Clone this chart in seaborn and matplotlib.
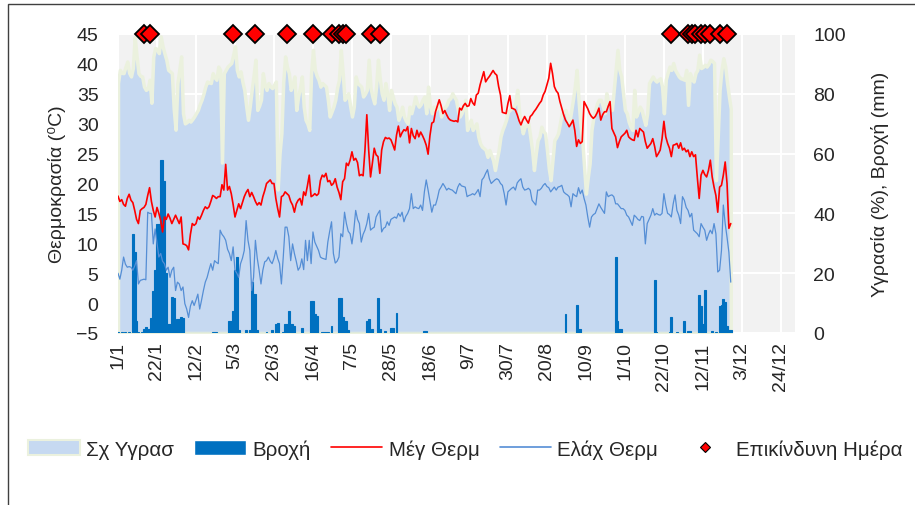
import pandas as pd
import numpy as np
import matplotlib
matplotlib.use("Agg")
import matplotlib.pyplot as plt
import seaborn as sns
from matplotlib.patches import Patch, Rectangle
from matplotlib.lines import Line2D

# daily series from 1 Jan, one value per day (Jan..27 Nov)
start = "2019-01-01"

max_temp = [
    # Jan
    17.9, 17.0, 17.3, 16.5, 16.2, 17.5, 18.2, 17.2, 16.8, 15.5, 14.0, 13.3, 15.5, 15.8, 16.0, 16.5,
    18.0, 19.3, 17.0, 15.5, 14.4, 16.0, 15.0, 13.8, 11.9, 14.4, 14.0, 14.9, 14.2, 13.3, 14.0,
    # Feb
    14.7, 14.0, 13.3, 14.4, 9.9, 9.8, 9.6, 8.9, 11.5, 13.3, 13.0, 13.3, 14.4, 14.0, 14.7, 15.5,
    16.1, 15.8, 16.1, 17.0, 18.0, 17.8, 17.5, 17.8, 17.8, 19.8, 18.9, 23.2,
    # Mar
    18.9, 19.5, 18.3, 16.5, 14.4, 15.5, 16.6, 15.8, 16.8, 17.8, 18.5, 19.0, 17.8, 18.5, 17.8, 17.0,
    16.4, 16.8, 16.4, 17.8, 18.8, 20.0, 20.3, 20.6, 20.0, 20.0, 17.5, 15.8, 14.4, 17.8, 18.0,
    # Apr
    18.6, 18.3, 18.0, 17.0, 16.4, 15.2, 16.6, 17.2, 17.5, 16.4, 18.6, 18.0, 19.6, 21.4, 17.8,
    18.0, 18.3, 18.0, 18.3, 20.5, 21.4, 21.1, 21.7, 20.3, 20.5, 19.7, 20.0, 20.8, 19.4, 18.5,
    # May
    17.3, 20.3, 20.8, 23.4, 23.0, 23.9, 25.3, 23.9, 24.2, 23.5, 21.3, 21.5, 21.3, 25.6, 31.5, 25.6,
    21.1, 23.4, 25.9, 24.8, 24.5, 21.7, 25.6, 27.0, 27.7, 27.5, 27.6, 27.3, 26.5, 25.6, 28.1,
    # Jun
    29.6, 27.8, 28.5, 29.0, 28.8, 29.5, 26.8, 29.2, 28.0, 27.5, 28.9, 27.8, 28.6, 28.0, 27.3,
    26.4, 24.9, 28.0, 30.1, 30.3, 32.0, 33.0, 34.0, 33.0, 31.7, 32.2, 31.5, 30.9, 30.6, 30.5,
    # Jul
    30.4, 30.5, 30.3, 32.6, 32.3, 33.0, 33.4, 32.9, 33.0, 34.2, 33.5, 33.1, 34.8, 35.1, 36.5, 37.6,
    38.7, 37.0, 37.5, 37.9, 38.4, 38.9, 38.4, 38.1, 36.2, 34.8, 31.9, 31.8, 31.7, 33.4, 34.7,
    # Aug
    32.6, 32.5, 32.3, 31.5, 30.5, 29.8, 30.6, 31.2, 30.6, 30.1, 31.2, 31.5, 32.0, 32.4, 32.9, 33.4,
    33.8, 34.8, 35.4, 36.5, 37.6, 40.1, 38.4, 36.2, 35.5, 35.1, 33.7, 32.6, 31.5, 30.6, 30.1,
    # Sep
    29.5, 30.0, 30.6, 28.9, 26.2, 27.3, 26.7, 27.0, 33.7, 33.1, 32.5, 31.7, 31.2, 30.9, 31.2,
    31.8, 32.6, 30.6, 31.5, 32.0, 32.0, 32.9, 33.7, 29.2, 28.5, 27.8, 26.0, 27.0, 27.8, 28.1,
    # Oct
    28.4, 28.9, 27.8, 27.5, 27.3, 27.2, 28.9, 27.8, 29.2, 28.9, 28.6, 27.0, 25.9, 26.3, 26.7, 27.5,
    26.2, 24.5, 25.0, 25.6, 27.5, 30.4, 27.8, 26.7, 25.9, 24.5, 26.4, 26.5, 26.7, 25.9, 26.8,
    # Nov
    25.6, 25.9, 25.3, 25.6, 24.5, 25.3, 24.5, 24.8, 21.0, 17.5, 21.4, 22.2, 21.5, 21.1, 22.2,
    23.9, 21.1, 19.4, 18.0, 15.2, 19.4, 19.7, 21.4, 23.6, 20.0, 12.5, 13.3,
]

min_temp = [
    # Jan
    5.0, 4.0, 5.5, 7.7, 6.5, 6.0, 6.1, 6.0, 5.5, 6.2, 7.1, 3.2, 3.8, 3.9, 4.0, 3.9,
    15.2, 15.0, 15.0, 9.9, 12.4, 10.0, 7.7, 8.3, 7.0, 6.6, 5.5, 6.0, 4.3, 5.5, 6.0,
    # Feb
    2.1, 3.5, 3.2, 2.1, 2.7, -0.1, -1.0, -2.4, -0.5, 0.4, -0.4, 0.5, 1.5, -1.0, 0.5, 2.1,
    3.5, 4.3, 5.5, 6.6, 5.5, 7.1, 6.8, 6.6, 12.2, 11.5, 11.1, 10.5,
    # Mar
    9.0, 8.3, 7.1, 9.4, 5.5, 5.0, 4.3, 6.6, 7.5, 8.8, 13.8, 10.5, 8.8, 2.1, 4.3, 10.5,
    7.5, 5.5, 3.2, 5.5, 6.9, 7.1, 7.7, 7.0, 6.6, 7.5, 8.8, 7.5, 6.6, 3.2, 7.7,
    # Apr
    12.7, 12.7, 11.1, 7.1, 9.9, 8.3, 7.0, 5.5, 6.0, 7.4, 5.6, 10.5, 7.1, 10.5, 6.6,
    11.9, 10.2, 9.5, 8.8, 7.7, 7.5, 7.4, 7.3, 10.2, 12.0, 13.6, 8.3, 6.7, 7.0, 7.7,
    # May
    11.6, 11.1, 15.2, 13.3, 12.0, 11.6, 9.9, 12.2, 15.5, 14.0, 13.3, 10.2, 11.5, 12.2, 13.3, 15.0,
    12.2, 12.5, 12.7, 14.4, 15.0, 15.5, 11.9, 12.5, 12.7, 13.6, 13.0, 14.0, 14.2, 14.4, 14.2,
    # Jun
    15.0, 14.5, 15.2, 13.6, 14.5, 15.0, 15.8, 18.3, 15.8, 16.1, 15.9, 15.8, 16.4, 15.5, 18.6,
    20.6, 18.9, 17.0, 15.2, 16.4, 16.4, 17.5, 18.9, 19.4, 20.0, 19.5, 18.9, 19.2, 19.0, 18.9,
    # Jul
    18.6, 18.3, 19.4, 20.0, 19.6, 19.5, 19.4, 17.8, 18.0, 18.1, 18.3, 18.1, 18.5, 19.0, 17.8, 20.6,
    21.0, 21.7, 22.3, 20.8, 20.0, 20.3, 20.6, 20.8, 20.6, 20.0, 19.7, 18.3, 16.4, 18.6, 18.9,
    # Aug
    19.2, 19.4, 18.9, 20.1, 20.5, 20.8, 19.4, 18.9, 19.0, 19.2, 18.9, 17.2, 16.8, 16.4, 18.9, 18.9,
    19.2, 19.7, 20.0, 19.5, 19.3, 18.6, 19.0, 19.4, 18.9, 19.4, 19.5, 19.7, 18.6, 18.3, 18.1,
    # Sep
    17.8, 16.1, 18.3, 18.0, 17.8, 19.3, 18.3, 18.9, 17.5, 16.4, 14.4, 12.7, 14.4, 14.8, 15.0,
    15.8, 16.6, 16.0, 15.5, 15.0, 18.6, 17.8, 18.0, 18.1, 17.8, 16.6, 16.6, 16.2, 15.8, 15.8,
    # Oct
    15.5, 14.7, 14.4, 13.7, 13.0, 14.7, 14.4, 14.0, 13.8, 14.5, 14.4, 9.9, 13.3, 14.0, 14.7, 15.8,
    14.7, 15.0, 14.8, 14.7, 15.0, 18.3, 16.4, 15.0, 14.8, 14.4, 16.6, 18.1, 15.5, 14.7, 13.3,
    # Nov
    17.8, 17.2, 16.0, 15.5, 14.4, 15.0, 12.2, 11.9, 11.6, 11.1, 13.3, 12.7, 12.2, 10.5, 11.5,
    12.2, 11.6, 13.3, 11.6, 5.2, 5.5, 8.8, 16.4, 13.3, 11.0, 8.5, 3.5,
]

humidity = [
    # Jan
    83.6, 88.0, 87.0, 86.9, 89.0, 90.8, 87.0, 85.8, 88.6, 99.0, 92.5, 86.9, 86.0, 85.8, 82.4, 81.3,
    81.8, 84.7, 77.0, 92.5, 95.3, 95.0, 93.6, 99.2, 95.9, 93.5, 91.4, 88.0, 87.5, 86.9, 75.0,
    # Feb
    68.0, 83.6, 88.0, 92.5, 73.5, 70.1, 70.5, 71.3, 70.7, 71.5, 72.4, 73.5, 74.6, 76.5, 78.0, 80.0,
    82.4, 84.1, 83.8, 83.6, 86.9, 85.5, 84.7, 89.1, 88.0, 57.0, 86.9, 88.0,
    # Mar
    89.1, 89.7, 90.3, 93.0, 95.9, 88.0, 85.8, 87.5, 84.0, 81.3, 76.0, 71.3, 76.0, 81.3, 86.0, 91.4,
    74.6, 76.0, 78.0, 86.9, 83.0, 81.3, 83.6, 82.5, 81.9, 83.0, 84.1, 48.0, 60.0, 66.8, 84.0,
    # Apr
    92.5, 89.0, 86.9, 81.3, 83.0, 85.8, 74.6, 79.1, 82.0, 85.8, 75.7, 71.3, 70.0, 67.9, 86.9,
    94.7, 88.0, 86.0, 84.7, 82.4, 83.6, 83.0, 82.4, 78.0, 72.4, 74.0, 75.7, 78.0, 82.0, 84.7,
    # May
    94.7, 86.9, 78.0, 79.0, 80.2, 76.0, 72.4, 75.7, 85.8, 83.6, 83.0, 82.4, 79.1, 80.0, 81.3, 91.4,
    82.0, 79.1, 76.8, 82.4, 91.4, 85.0, 80.2, 78.0, 83.6, 80.0, 74.6, 81.3, 79.0, 76.8, 75.7,
    # Jun
    71.3, 73.0, 75.7, 72.4, 71.0, 70.1, 75.7, 73.5, 76.0, 79.1, 76.8, 75.7, 76.5, 78.0, 79.1,
    73.5, 82.4, 76.0, 73.5, 75.7, 74.6, 75.5, 76.8, 72.4, 74.6, 75.5, 76.3, 78.0, 78.5, 80.2,
    # Jul
    79.0, 78.0, 74.6, 72.4, 73.5, 75.5, 78.0, 67.9, 69.5, 71.3, 67.9, 69.0, 70.1, 65.7, 63.4, 62.3,
    61.8, 61.2, 58.9, 61.2, 59.5, 57.8, 54.5, 58.0, 61.2, 65.7, 67.9, 69.5, 71.3, 74.0, 74.6,
    # Aug
    75.2, 75.7, 76.8, 81.3, 74.0, 70.1, 66.8, 69.0, 69.5, 70.1, 65.7, 61.2, 54.5, 60.0, 64.5, 65.7,
    69.0, 67.5, 66.8, 61.2, 55.0, 51.1, 57.8, 64.5, 65.5, 66.8, 70.1, 73.5, 74.0, 74.6, 72.4,
    # Sep
    70.1, 74.0, 78.0, 82.4, 88.0, 78.0, 70.0, 64.5, 55.6, 46.6, 52.0, 56.7, 67.9, 72.0, 74.6,
    76.8, 78.0, 78.0, 76.0, 73.5, 80.2, 76.8, 76.0, 74.6, 81.3, 88.0, 94.7, 88.0, 85.8, 80.2,
    # Oct
    74.6, 73.5, 70.7, 69.0, 67.9, 81.3, 72.4, 74.0, 75.7, 74.6, 72.0, 69.6, 73.5, 83.6, 84.7, 85.8,
    84.7, 84.1, 84.7, 85.2, 82.4, 73.5, 84.7, 87.0, 89.1, 88.0, 90.3, 88.0, 86.9, 85.8, 85.2,
    # Nov
    85.0, 84.7, 88.0, 76.3, 86.9, 85.0, 84.1, 86.9, 88.0, 93.1, 88.6, 89.0, 89.7, 89.1, 90.0,
    91.4, 91.0, 90.3, 51.1, 65.7, 81.3, 88.0, 91.9, 89.1, 83.6, 79.1, 75.0,
]

# rain days: day of year (0 = 1 Jan) and rainfall in mm
rain_doy = [0, 2, 4, 6, 8, 9, 10, 11, 13, 14, 15, 16, 17, 18, 19, 20, 21, 22, 23, 24, 25, 26,
            27, 28, 29, 30, 31, 32, 33, 34, 35, 51, 52, 53, 60, 61, 62, 63, 64, 65, 69, 71,
            72, 73, 74, 75, 80, 83, 85, 86, 89, 90, 91, 92, 93, 94, 95, 99, 104, 105, 106,
            107, 110, 111, 112, 113, 115, 119, 120, 121, 122, 123, 124, 134, 135, 137, 140,
            141, 144, 147, 148, 150, 165, 166, 241, 247, 248, 249, 268, 269, 270, 271, 289,
            290, 297, 298, 301, 305, 307, 308, 313, 314, 315, 316, 320, 322, 324, 325, 326,
            327, 328, 329, 330]
rain_mm = [0.4, 0.4, 0.4, 0.3, 33, 27, 4, 0.3, 0.3, 1.3, 2, 1.3, 1.3, 5, 14, 21, 36.5, 36.5,
           58, 58, 51, 20, 3, 3, 12, 11.7, 3, 4.7, 4.7, 5.3, 5, 0.3, 0.3, 0.3, 4, 4, 7.5, 21,
           25.4, 1, 1, 1, 17, 13, 13, 1, 0.5, 1, 3, 3.3, 0.3, 3, 3, 7.3, 3, 3, 2.5, 1.7, 10.6,
           10.6, 6.4, 5.8, 0.3, 0.3, 0.3, 0.3, 2.5, 11.7, 11.7, 5.3, 4.1, 4.1, 1, 4.1, 4.7,
           1.3, 11.7, 1.3, 0.8, 1.7, 1.7, 6.6, 0.8, 0.8, 6.4, 9.2, 1.3, 1.3, 25.4, 4.1, 1.3,
           1.3, 17.8, 0.3, 0.3, 5.3, 0.3, 4.1, 0.8, 0.8, 12.8, 9, 3, 14.4, 0.8, 0.5, 9, 9.5,
           11.4, 10.4, 2.3, 1, 1]

# dangerous days (day of year)
danger_doy = [14, 17, 62, 74, 91, 105, 115, 119, 121, 123, 136, 141,
              298, 307, 309, 311, 314, 316, 319, 324, 328]

tick_dates = pd.date_range(start, periods=18, freq="21D")

# build table
dates = pd.date_range(start, periods=len(max_temp), freq="D")
df = pd.DataFrame({"date": dates, "tmax": max_temp, "tmin": min_temp, "hum": humidity})
rain = np.zeros(len(df))
rain[rain_doy] = rain_mm
df["rain"] = rain
danger_dates = dates[danger_doy]

sns.set_style("white")
plt.rcParams["font.family"] = ["Liberation Sans", "DejaVu Sans"]
plt.rcParams["font.size"] = 14

fig = plt.figure(figsize=(9.15, 5.06), dpi=100)
ax = fig.add_axes([118 / 915, 1 - 334 / 506, 677 / 915, 299 / 506])
ax.set_facecolor("#F2F2F2")

# humidity area + rain bars on the right axis
ax.fill_between(df["date"], 0, df["hum"], facecolor="#C6D9F1", edgecolor="#EBF1DE",
                linewidth=2.5, zorder=2)
ax.bar(df["date"], df["rain"], width=1.0, color="#0070C0", edgecolor="#0070C0",
       linewidth=0.8, zorder=3)
ax.set_ylim(0, 100)
ax.set_yticks(range(0, 101, 20))
ax.set_xlim(dates[0], dates[0] + pd.Timedelta(days=364.6))
ax.set_xticks(tick_dates)
ax.set_xticklabels([f"{d.day}/{d.month}" for d in tick_dates], rotation=90)
ax.grid(True, color="white", linewidth=1.5)
ax.set_axisbelow(True)

# temperature lines on the left axis
axt = ax.twinx()
sns.lineplot(data=df, x="date", y="tmax", ax=axt, color="#FF0000", linewidth=1.2)
sns.lineplot(data=df, x="date", y="tmin", ax=axt, color="#558ED5", linewidth=0.9)
axt.plot(danger_dates, [45] * len(danger_dates), "D", ms=9, mfc="#FF0000", mec="black",
         mew=1.3, clip_on=False, zorder=10)
axt.set_ylim(-5, 45)
axt.set_yticks(range(-5, 46, 5))
axt.yaxis.tick_left()
axt.yaxis.set_label_position("left")
ax.yaxis.tick_right()
ax.yaxis.set_label_position("right")

axt.set_ylabel("Θερμοκρασία (⁰C)", fontsize=14)
axt.yaxis.set_label_coords(-0.077, 0.5)
ax.set_ylabel("Υγρασία (%), Βροχή (mm)", fontsize=14)
ax.yaxis.set_label_coords(1.112, 0.5)
ax.set_xlabel("")

ax.tick_params(axis="x", length=0, pad=6, labelsize=14)
ax.tick_params(axis="y", length=0, pad=13, labelsize=14)
axt.tick_params(axis="y", length=0, pad=14, labelsize=14)
for a in (ax, axt):
    for s in a.spines.values():
        s.set_visible(False)

handles = [
    Patch(facecolor="#C6D9F1", edgecolor="#EBF1DE", linewidth=1.5),
    Patch(facecolor="#0070C0"),
    Line2D([], [], color="#FF0000", linewidth=1.2),
    Line2D([], [], color="#558ED5", linewidth=1.2),
    Line2D([], [], linestyle="none", marker="D", ms=5.5, mfc="#FF0000", mec="black", mew=0.8),
]
labels = ["Σχ Υγρασ", "Βροχή", "Μέγ Θερμ", "Ελάχ Θερμ", "Επικίνδυνη Ημέρα"]
fig.legend(handles, labels, loc="center", bbox_to_anchor=(0.509, 0.111), ncol=5,
           frameon=False, fontsize=14.8, handlelength=2.5, handleheight=0.8,
           handletextpad=0.3, columnspacing=1.0)

# chart border (only the top and left edges fall inside the picture)
fig.add_artist(Rectangle((8 / 915, -0.1), 1.2, 1.1 - 5 / 506, transform=fig.transFigure,
                         fill=False, edgecolor="#404040", linewidth=1.0))

fig.savefig("out.png", dpi=100)
